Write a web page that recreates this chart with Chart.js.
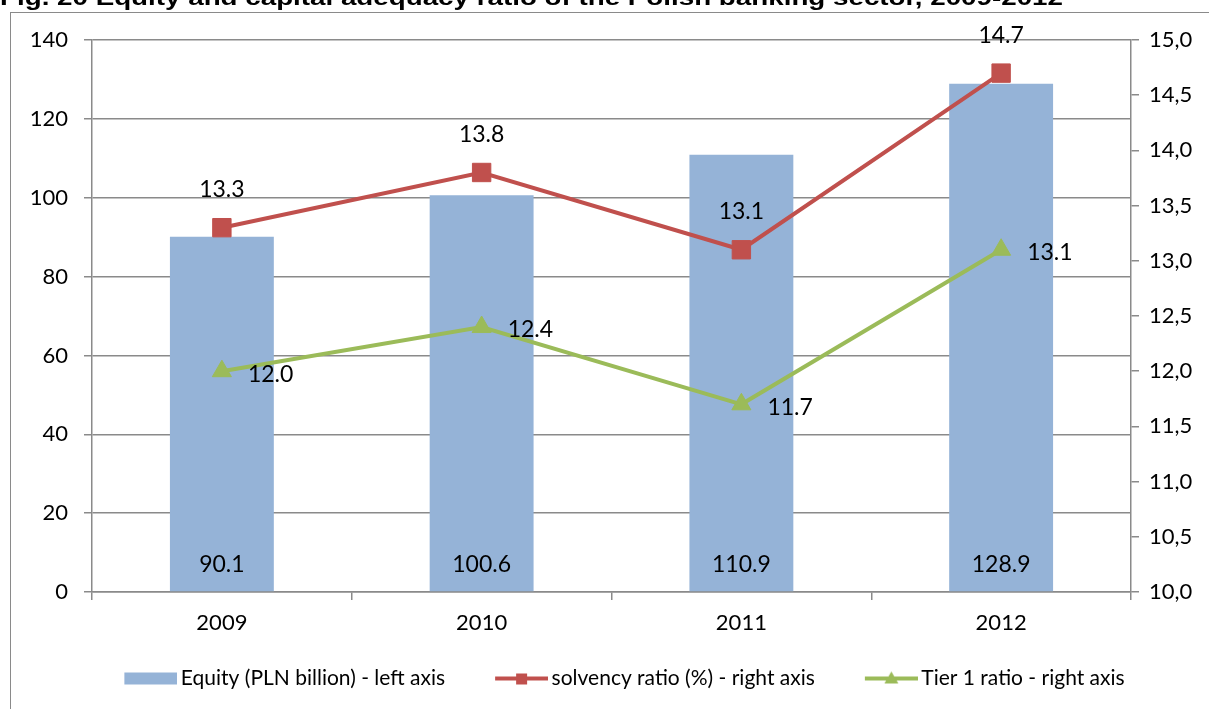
<!DOCTYPE html>
<html lang="en">
<head>
  <meta charset="UTF-8">
  <title>Equity and capital adequacy ratio of the Polish banking sector</title>
  <script src="https://cdn.jsdelivr.net/npm/chart.js"></script>
  <style>
    body {
      margin: 0;
      background: #fff;
      overflow: hidden;
    }

    .wrap {
      position: relative;
      width: 1209px;
      height: 709px;
      overflow: hidden;
    }

    /* outer chart frame, only its top-left corner is on screen */
    .frame {
      position: absolute;
      left: 10px;
      top: 12px;
      width: 1300px;
      height: 800px;
      border-left: 1.5px solid #8a8a8a;
      border-top: 1.5px solid #8a8a8a;
    }

    .fig-title {
      position: absolute;
      left: 0;
      top: -13px;
      font: bold 22px "Liberation Sans", Arial, sans-serif;
      line-height: 22px;
      white-space: nowrap;
      transform-origin: 0 0;
    }

    .chart-box {
      position: absolute;
      left: 0;
      top: 0;
      width: 1209px;
      height: 709px;
    }
  </style>
</head>
<body>
  <div class="wrap">
    <div class="frame"></div>
    <div class="chart-box"><canvas id="myChart"></canvas></div>
    <div class="fig-title" id="figTitle">Fig. 20 Equity and capital adequacy ratio of the Polish banking sector, 2009-2012</div>
  </div>

  <script>
    // Data
    const years = ['2009', '2010', '2011', '2012'];
    const equity = [90.1, 100.6, 110.9, 128.9];
    const solvency = [13.3, 13.8, 13.1, 14.7];
    const tier1 = [12.0, 12.4, 11.7, 13.1];
    const leftTicks = [0, 20, 40, 60, 80, 100, 120, 140];
    const rightTicks = [10, 10.5, 11, 11.5, 12, 12.5, 13, 13.5, 14, 14.5, 15];

    const BLUE = '#95B3D7';
    const RED = '#C0504D';
    const GREEN = '#9BBB59';
    const GRID = '#8a8a8a';

    Chart.defaults.font.family = 'Lato, "Open Sans", sans-serif';
    Chart.defaults.color = '#000';

    // legend swatches: the image is 14px wider than the legend box so the
    // sample sits close to its text; blank lead-in on the left spaces the items
    function makeIcon(kind) {
      const c = document.createElement('canvas');
      c.width = 100;
      c.height = 16;
      const g = c.getContext('2d');
      if (kind === 'bar') {
        g.fillStyle = BLUE;
        g.fillRect(47, 2, 53, 12);
        return c;
      }
      const col = kind === 'rect' ? RED : GREEN;
      g.strokeStyle = col;
      g.fillStyle = col;
      g.lineWidth = 4;
      g.beginPath();
      g.moveTo(47, 8);
      g.lineTo(100, 8);
      g.stroke();
      if (kind === 'rect') {
        g.fillRect(68, 3, 11, 11);
      } else {
        g.beginPath();
        g.moveTo(73.5, 1);
        g.lineTo(80.5, 13);
        g.lineTo(66.5, 13);
        g.closePath();
        g.fill();
      }
      return c;
    }
    const legendIcons = [makeIcon('bar'), makeIcon('rect'), makeIcon('triangle')];

    // numbers printed next to bars and points
    const valueLabels = {
      id: 'valueLabels',
      afterDatasetsDraw(chart) {
        const ctx = chart.ctx;
        ctx.save();
        ctx.fillStyle = '#000';
        ctx.font = '23px Lato, "Open Sans", sans-serif';
        ctx.textBaseline = 'middle';
        chart.data.datasets.forEach((ds, i) => {
          const meta = chart.getDatasetMeta(i);
          meta.data.forEach((el, j) => {
            const txt = ds.data[j].toFixed(1);
            if (i === 0) {
              ctx.textAlign = 'center';
              ctx.fillText(txt, el.x, el.base - 27);
            } else if (i === 1) {
              ctx.textAlign = 'center';
              ctx.fillText(txt, el.x, el.y - 38);
            } else {
              ctx.textAlign = 'left';
              ctx.fillText(txt, el.x + 26, el.y + 3);
            }
          });
        });
        ctx.restore();
      }
    };

    const ctx = document.getElementById('myChart').getContext('2d');
    const myChart = new Chart(ctx, {
      data: {
        labels: years,
        datasets: [
          {
            type: 'bar',
            label: 'Equity (PLN billion) - left axis',
            data: equity,
            backgroundColor: BLUE,
            yAxisID: 'y',
            order: 3,
            barPercentage: 0.4,
            categoryPercentage: 1
          },
          {
            type: 'line',
            label: 'solvency ratio (%) - right axis',
            data: solvency,
            borderColor: RED,
            backgroundColor: RED,
            borderWidth: 4,
            pointStyle: 'rect',
            pointRadius: 13,
            pointBorderWidth: 1,
            yAxisID: 'y1',
            order: 1
          },
          {
            type: 'line',
            label: 'Tier 1 ratio - right axis',
            data: tier1,
            borderColor: GREEN,
            backgroundColor: GREEN,
            borderWidth: 4,
            pointStyle: 'triangle',
            pointRadius: 11,
            pointBorderWidth: 1,
            yAxisID: 'y1',
            order: 2
          }
        ]
      },
      options: {
        responsive: true,
        maintainAspectRatio: false,
        animation: false,
        layout: { padding: { top: 40, bottom: 10, left: 0, right: 0 } },
        plugins: {
          tooltip: { enabled: false },
          legend: {
            position: 'bottom',
            labels: {
              usePointStyle: true,
              pointStyleWidth: 86,
              padding: 10,
              color: '#000',
              font: { size: 21 },
              sort: (a, b) => a.datasetIndex - b.datasetIndex,
              generateLabels(chart) {
                const items = Chart.defaults.plugins.legend.labels.generateLabels(chart);
                items.forEach(it => { it.pointStyle = legendIcons[it.datasetIndex]; });
                return items;
              }
            }
          }
        },
        scales: {
          x: {
            offset: true,
            grid: { offset: true, drawOnChartArea: false, tickLength: 8, color: GRID, lineWidth: 1.5 },
            border: { color: GRID, width: 1.5 },
            ticks: { font: { size: 22 }, padding: 10 },
            afterFit(s) { s.height = 66; }
          },
          y: {
            position: 'left',
            min: 0,
            max: 140,
            afterBuildTicks(s) { s.ticks = leftTicks.map(v => ({ value: v })); },
            grid: { color: GRID, lineWidth: 1.5, tickLength: 8 },
            border: { color: GRID, width: 1.5 },
            ticks: { font: { size: 22 }, padding: 16 },
            afterFit(s) { s.width = 92; }
          },
          y1: {
            position: 'right',
            min: 10,
            max: 15,
            afterBuildTicks(s) { s.ticks = rightTicks.map(v => ({ value: v })); },
            grid: { drawOnChartArea: false, color: GRID, lineWidth: 1.5, tickLength: 8 },
            border: { color: GRID, width: 1.5 },
            ticks: {
              font: { size: 22 },
              padding: 10,
              callback: v => Number(v).toFixed(1).replace('.', ',')
            },
            afterFit(s) { s.width = 78; }
          }
        }
      },
      plugins: [valueLabels]
    });

    // stretch the caption to its printed width
    const title = document.getElementById('figTitle');
    const tw = title.getBoundingClientRect().width;
    title.style.transform = 'scaleX(' + (1063 / tw) + ')';
  </script>
</body>
</html>
